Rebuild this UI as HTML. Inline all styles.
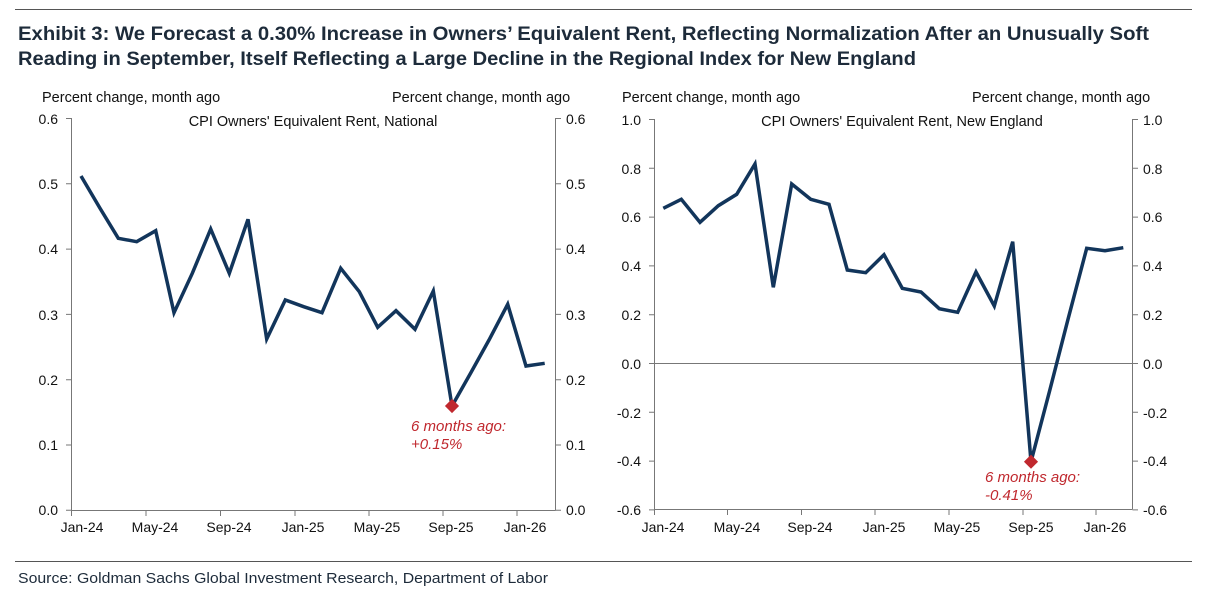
<!DOCTYPE html>
<html><head><meta charset="utf-8"><style>
html,body{margin:0;padding:0;background:#fff;}
svg{display:block;}
text{font-family:"Liberation Sans",Arial,sans-serif;}
</style></head><body>
<svg width="1211" height="593" viewBox="0 0 1211 593" xmlns="http://www.w3.org/2000/svg">
<line x1="15" y1="9.5" x2="1192" y2="9.5" stroke="#555" stroke-width="1"/>
<text x="18" y="40" font-size="19" font-weight="bold" fill="#1d2b3a" textLength="1131" lengthAdjust="spacingAndGlyphs">Exhibit 3: We Forecast a 0.30% Increase in Owners’ Equivalent Rent, Reflecting Normalization After an Unusually Soft</text>
<text x="18" y="65" font-size="19" font-weight="bold" fill="#1d2b3a" textLength="898" lengthAdjust="spacingAndGlyphs">Reading in September, Itself Reflecting a Large Decline in the Regional Index for New England</text>

<g font-size="14.5" fill="#111">
<text x="42" y="102">Percent change, month ago</text>
<text x="392" y="102">Percent change, month ago</text>
<text x="622" y="102">Percent change, month ago</text>
<text x="972" y="102">Percent change, month ago</text>
<text x="313" y="126" text-anchor="middle">CPI Owners' Equivalent Rent, National</text>
<text x="902" y="126" text-anchor="middle">CPI Owners' Equivalent Rent, New England</text>
</g>

<!-- Left chart -->
<g stroke="#777" stroke-width="1" fill="none">
<line x1="71.5" y1="118" x2="71.5" y2="510"/>
<line x1="555.5" y1="118" x2="555.5" y2="510"/>
<line x1="71.5" y1="510.5" x2="555.5" y2="510.5"/>
<path d="M66 118.5H71.5M66 183.8H71.5M66 249.1H71.5M66 314.4H71.5M66 379.7H71.5M66 445H71.5M66 510.3H71.5"/>
<path d="M555.5 118.5H561M555.5 183.8H561M555.5 249.1H561M555.5 314.4H561M555.5 379.7H561M555.5 445H561M555.5 510.3H561"/>
<path d="M71.5 510V516M146 510V516M220.5 510V516M295 510V516M369 510V516M443 510V516M517 510V516"/>
</g>
<g font-size="14" fill="#111" text-anchor="end">
<text x="58" y="124">0.6</text><text x="58" y="189">0.5</text><text x="58" y="254">0.4</text><text x="58" y="320">0.3</text><text x="58" y="385">0.2</text><text x="58" y="450">0.1</text><text x="58" y="515">0.0</text>
</g>
<g font-size="14" fill="#111">
<text x="566" y="124">0.6</text><text x="566" y="189">0.5</text><text x="566" y="254">0.4</text><text x="566" y="320">0.3</text><text x="566" y="385">0.2</text><text x="566" y="450">0.1</text><text x="566" y="515">0.0</text>
</g>
<g font-size="14" fill="#111" text-anchor="middle">
<text x="82" y="532">Jan-24</text><text x="155" y="532">May-24</text><text x="229" y="532">Sep-24</text><text x="303" y="532">Jan-25</text><text x="377" y="532">May-25</text><text x="451" y="532">Sep-25</text><text x="525" y="532">Jan-26</text>
</g>
<polyline fill="none" stroke="#12355b" stroke-width="3.5" stroke-linejoin="miter" points="81,176 100,208.3 118.3,238.3 136.7,241.7 155.7,230.7 174,312.7 192.3,273.3 210.7,229 229.3,273.3 248,219.3 266.7,339 285.3,300 303.7,306.7 322,312.7 340.7,268.3 359.3,291.7 377.7,327.3 396,310.7 415,329.3 433.3,291 452,406 470.7,373 489,340 507.7,304.3 526,366 544.7,363.3"/>
<rect x="447" y="401" width="10" height="10" fill="#c0282e" transform="rotate(45 452 406)"/>
<text x="411" y="431" font-size="15" font-style="italic" fill="#c0282e">6 months ago:</text>
<text x="411" y="449" font-size="15" font-style="italic" fill="#c0282e">+0.15%</text>

<!-- Right chart -->
<g stroke="#777" stroke-width="1" fill="none">
<line x1="654.5" y1="119" x2="654.5" y2="509"/>
<line x1="1132.5" y1="119" x2="1132.5" y2="509"/>
<line x1="654.5" y1="509.5" x2="1132.5" y2="509.5"/>
<line x1="654.5" y1="363.5" x2="1132.5" y2="363.5"/>
<path d="M649 119.5H654.5M649 168.3H654.5M649 217.1H654.5M649 265.9H654.5M649 314.7H654.5M649 363.5H654.5M649 412.3H654.5M649 461.1H654.5M649 509.9H654.5"/>
<path d="M1132.5 119.5H1138M1132.5 168.3H1138M1132.5 217.1H1138M1132.5 265.9H1138M1132.5 314.7H1138M1132.5 363.5H1138M1132.5 412.3H1138M1132.5 461.1H1138M1132.5 509.9H1138"/>
<path d="M654.5 509V515M727.5 509V515M801.5 509V515M875 509V515M949 509V515M1023 509V515M1096 509V515"/>
</g>
<g font-size="14" fill="#111" text-anchor="end">
<text x="641" y="125">1.0</text><text x="641" y="174">0.8</text><text x="641" y="222">0.6</text><text x="641" y="271">0.4</text><text x="641" y="320">0.2</text><text x="641" y="369">0.0</text><text x="641" y="418">-0.2</text><text x="641" y="466">-0.4</text><text x="641" y="515">-0.6</text>
</g>
<g font-size="14" fill="#111">
<text x="1143" y="125">1.0</text><text x="1143" y="174">0.8</text><text x="1143" y="222">0.6</text><text x="1143" y="271">0.4</text><text x="1143" y="320">0.2</text><text x="1143" y="369">0.0</text><text x="1143" y="418">-0.2</text><text x="1143" y="466">-0.4</text><text x="1143" y="515">-0.6</text>
</g>
<g font-size="14" fill="#111" text-anchor="middle">
<text x="663" y="532">Jan-24</text><text x="737" y="532">May-24</text><text x="810" y="532">Sep-24</text><text x="884" y="532">Jan-25</text><text x="957" y="532">May-25</text><text x="1031" y="532">Sep-25</text><text x="1105" y="532">Jan-26</text>
</g>
<polyline fill="none" stroke="#12355b" stroke-width="3.5" stroke-linejoin="miter" points="663.3,208.3 681.3,199.3 700,222.3 718.3,205.7 736.7,194.3 755,164 773.3,287.3 791.7,184 810.7,199.3 829,204.3 847.3,270 865.7,272.7 884,254.7 902.3,288.3 921,292 939.3,308.7 957.7,312.3 976,272 994.3,306 1012.7,241.7 1031,461.7 1049.7,390.6 1068,319.3 1086.7,248.3 1105,250.7 1123.3,247.7"/>
<rect x="1026" y="456.7" width="10" height="10" fill="#c0282e" transform="rotate(45 1031 461.7)"/>
<text x="985" y="482" font-size="15" font-style="italic" fill="#c0282e">6 months ago:</text>
<text x="985" y="500" font-size="15" font-style="italic" fill="#c0282e">-0.41%</text>

<line x1="15" y1="561.5" x2="1192" y2="561.5" stroke="#555" stroke-width="1"/>
<text x="18" y="583" font-size="15" fill="#1d2b3a" textLength="530" lengthAdjust="spacingAndGlyphs">Source: Goldman Sachs Global Investment Research, Department of Labor</text>
</svg>
</body></html>
